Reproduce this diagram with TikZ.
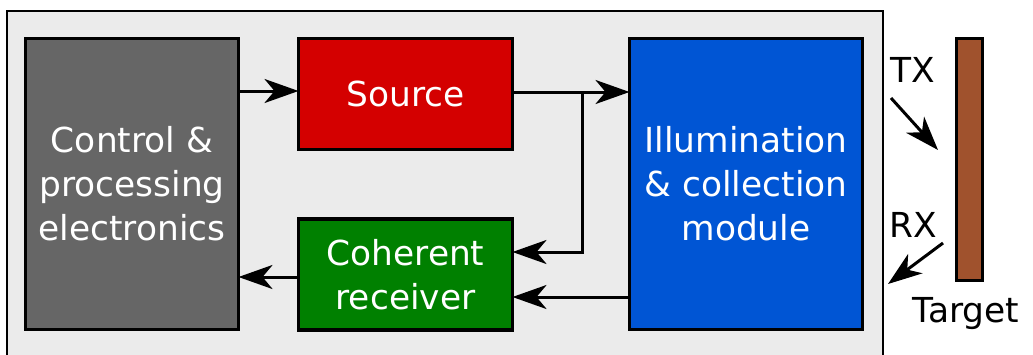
\documentclass[tikz,border=0pt]{standalone}
\usepackage{fontspec}
\setmainfont{DejaVu Sans}
\usetikzlibrary{arrows.meta}
\definecolor{bgc}{HTML}{EBEBEB}
\definecolor{ctrlc}{HTML}{666666}
\definecolor{srcc}{HTML}{D40000}
\definecolor{cohc}{HTML}{008000}
\definecolor{illc}{HTML}{0055D4}
\definecolor{tgtc}{HTML}{A0522D}
\tikzset{
  box/.style={draw=black, line width=3.5pt, inner sep=0pt, outer sep=0pt, text=white, align=center,
    font=\fontsize{34.4}{44}\selectfont},
  lbl/.style={inner sep=0pt, text=black, font=\fontsize{34.4}{44}\selectfont},
  arr/.style={line width=3pt, -{Stealth[length=34pt, width=24pt, inset=10pt]}},
}
\begin{document}
\begin{tikzpicture}[x=1pt, y=-1pt]
\useasboundingbox (0,0) rectangle (1033,354);
\fill[white] (0,0) rectangle (1033,354);
\draw[fill=bgc, line width=1.5pt] (7,11) rectangle (883,370);
\node[box, fill=ctrlc, minimum width=213pt, minimum height=291pt] (ctrl) at (132,184) {Control \&\\processing\\electronics};
\node[box, fill=srcc, minimum width=214pt, minimum height=111pt] (src) at (405.5,94) {Source};
\node[box, fill=cohc, minimum width=214pt, minimum height=111pt] (coh) at (405.5,274.5) {Coherent\\receiver};
\node[box, fill=illc, minimum width=233pt, minimum height=291pt] (ill) at (746,184) {Illumination\\\& collection\\module};
\node[box, fill=tgtc, minimum width=26pt, minimum height=242pt] (tgt) at (969.5,159.5) {};
\node[lbl] (tx) at (913,70) {TX};
\node[lbl] (rx) at (913,225) {RX};
\node[lbl] (tgtl) at (966,314) {Target};
\coordinate (br) at (582,92);
\draw[arr] (ctrl.east |- 0,91) -- (src.west |- 0,91);
\draw[arr] (src.east |- br) -- (ill.west |- br);
\draw[arr] (br) |- (coh.east |- 0,252);
\draw[arr] (ill.west |- 0,297) -- (coh.east |- 0,297);
\draw[arr] (coh.west |- 0,277) -- (ctrl.east |- 0,277);
\coordinate (txa) at (891,98);
\coordinate (txb) at (938,150);
\coordinate (rxa) at (943,243);
\coordinate (rxb) at (888,284);
\draw[arr] (txa) -- (txb);
\draw[arr] (rxa) -- (rxb);
\end{tikzpicture}
\end{document}
